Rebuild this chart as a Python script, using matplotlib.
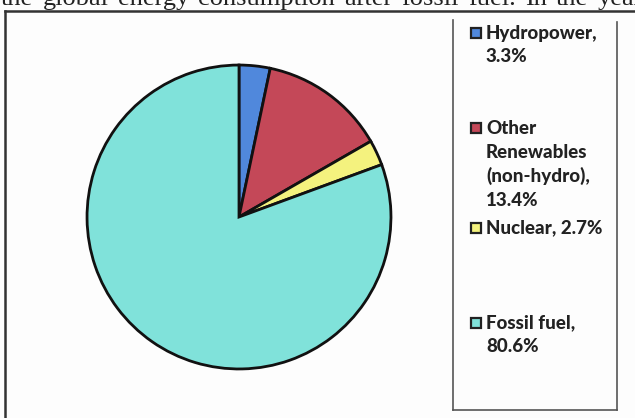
import matplotlib
matplotlib.use("Agg")
import matplotlib.pyplot as plt
from matplotlib.lines import Line2D
from matplotlib.patches import Rectangle

# ----------------------------
# DATA
# ----------------------------
sources = ["Hydropower", "Other Renewables (non-hydro)", "Nuclear", "Fossil fuel"]
shares = [3.3, 13.4, 2.7, 80.6]
colors = ["#5088dc", "#c44858", "#f4f27e", "#80e2da"]
legend_lines = [
    ["Hydropower,", "3.3%"],
    ["Other", "Renewables", "(non-hydro),", "13.4%"],
    ["Nuclear, 2.7%"],
    ["Fossil fuel,", "80.6%"],
]
legend_tops = [33, 128, 228, 323]   # pixel y of first line of each entry
header = "the global energy consumption after fossil fuel. In the year"

W, H = 635, 418
fig = plt.figure(figsize=(W / 100, H / 100), dpi=100)
fig.patch.set_facecolor("#fdfdfd")

def fx(x):
    return x / W

def fy(y):
    return 1 - y / H

# scanned text line at the top, justified (cut in half by the crop)
renderer = fig.canvas.get_renderer()
words = header.split()
texts = [fig.text(0, fy(5), w, family="Liberation Serif", fontsize=19,
                  ha="left", va="baseline", color="#222222") for w in words]
widths = [t.get_window_extent(renderer).width for t in texts]
x0, x1 = 1, 643
gap = (x1 - x0 - sum(widths)) / (len(words) - 1)
x = x0
for t, w in zip(texts, widths):
    t.set_x(fx(x))
    x += w + gap

# outer frame (only left and top edges visible)
fig.add_artist(Line2D([fx(5), fx(5)], [fy(11), fy(418)], color="#333333", lw=1.8))
fig.add_artist(Line2D([fx(5), fx(635)], [fy(11), fy(11)], color="#333333", lw=1.8))

# legend box
lc = "#555555"
fig.add_artist(Line2D([fx(453), fx(453)], [fy(20), fy(410)], color=lc, lw=1.2))
fig.add_artist(Line2D([fx(617), fx(617)], [fy(22), fy(410)], color=lc, lw=1.2))
fig.add_artist(Line2D([fx(453), fx(617)], [fy(410), fy(410)], color=lc, lw=1.2))

# pie
cx, cy, r = 239, 217, 155
ax = fig.add_axes([fx(cx - r), fy(cy + r), 2 * r / W, 2 * r / H])
ax.pie(shares, colors=colors, startangle=90, counterclock=False,
       wedgeprops=dict(edgecolor="#111111", linewidth=2))
ax.set_xlim(-1.02, 1.02)
ax.set_ylim(-1.02, 1.02)
ax.axis("off")

# legend entries
step = 24
for lines, top, col in zip(legend_lines, legend_tops, colors):
    fig.add_artist(Rectangle((fx(471), fy(top + 5)), 10 / W, 10 / H,
                             facecolor=col, edgecolor="#222222", lw=1.6))
    for i, line in enumerate(lines):
        fig.text(fx(486), fy(top + i * step), line, family="Lato",
                 fontweight=900, fontsize=13.5, ha="left", va="center",
                 color="#222222")

fig.savefig("out.png", dpi=100)
